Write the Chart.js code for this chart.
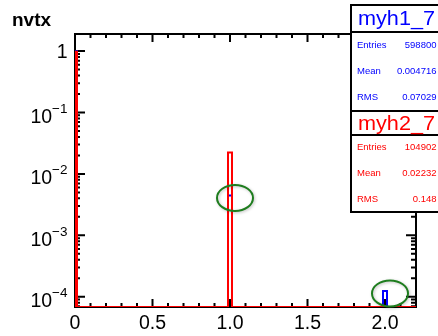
<!DOCTYPE html>
<html>
<head>
<meta charset="utf-8">
<script src="https://cdn.jsdelivr.net/npm/chart.js@4.4.1/dist/chart.umd.min.js"></script>
<style>
  html, body { margin: 0; padding: 0; background: #ffffff; }
  #wrap { width: 438px; height: 336px; }
</style>
</head>
<body>
<div id="wrap"><canvas id="c" width="438" height="336"></canvas></div>
<script>
// Bin centres on the nvtx axis and the bin width
const binCenters = [0, 1, 2];
const binWidth = 0.0258;

// Normalised bin contents of the two histograms
const h1Values = [0.99541, 0.00447, 0.000124];   // myh1_7
const h2Values = [0.97768, 0.02232, 0];          // myh2_7

// Axis ranges and labelled ticks
const xRange = [0, 2.2];
const yRange = [6.8e-5, 1.9];
const xStep = 0.5;
const yDecades = [0, -1, -2, -3, -4];

// Statistics boxes
const statNames = ['myh1_7', 'myh2_7'];
const statLabels = ['Entries', 'Mean', 'RMS'];
const h1Stats = ['598800', '0.004716', '0.07029'];
const h2Stats = ['104902', '0.02232', '0.148'];

// Bins of myh1_7 that are circled
const markedBins = [1, 2];

const FONT = "'Liberation Sans', Arial, Helvetica, sans-serif";

// Histogram outline clipped to the x range; empty bins sit on the lower edge of the log axis
function outline(values) {
  const floor = yRange[0];
  const pts = [{ x: xRange[0], y: floor }];
  binCenters.forEach((c, i) => {
    const v = values[i] > floor ? values[i] : floor;
    const lo = Math.max(c - binWidth / 2, xRange[0]);
    const hi = Math.min(c + binWidth / 2, xRange[1]);
    pts.push({ x: lo, y: floor }, { x: lo, y: v }, { x: hi, y: v }, { x: hi, y: floor });
  });
  pts.push({ x: xRange[1], y: floor });
  return pts;
}

// Frame with inward ticks on all four sides, plus the y labels
const framePlugin = {
  id: 'frame',
  beforeDatasetsDraw(chart) {
    const { ctx, chartArea: a, scales: { x, y } } = chart;
    ctx.save();
    ctx.strokeStyle = '#000';
    ctx.lineWidth = 2;
    ctx.strokeRect(a.left, a.top, a.right - a.left, a.bottom - a.top);
    ctx.beginPath();
    for (let i = 0; i <= Math.round(xRange[1] * 10); i++) {
      const px = x.getPixelForValue(i / 10);
      const len = i % 5 === 0 ? 8 : 4;
      ctx.moveTo(px, a.bottom); ctx.lineTo(px, a.bottom - len);
      ctx.moveTo(px, a.top); ctx.lineTo(px, a.top + len);
    }
    for (let d = -5; d <= 0; d++) {
      for (let m = 1; m <= 9; m++) {
        const v = m * Math.pow(10, d);
        if (v < y.min || v > y.max) continue;
        const py = y.getPixelForValue(v);
        const len = m === 1 ? 10 : 5;
        ctx.moveTo(a.left, py); ctx.lineTo(a.left + len, py);
        ctx.moveTo(a.right, py); ctx.lineTo(a.right - len, py);
      }
    }
    ctx.stroke();

    ctx.fillStyle = '#000';
    ctx.textAlign = 'right';
    ctx.textBaseline = 'alphabetic';
    const rx = a.left - 7.5;
    yDecades.forEach(d => {
      const py = y.getPixelForValue(Math.pow(10, d));
      if (d === 0) {
        ctx.font = '19.5px ' + FONT;
        ctx.fillText('1', rx, py + 7);
      } else {
        const sup = '\u2212' + (-d);
        ctx.font = '13.5px ' + FONT;
        const w = ctx.measureText(sup).width;
        ctx.fillText(sup, rx, py + 0.5);
        ctx.font = '19.5px ' + FONT;
        ctx.fillText('10', rx - w, py + 10.5);
      }
    });

    // histogram title
    ctx.textAlign = 'left';
    ctx.font = 'bold 19px ' + FONT;
    ctx.fillText('nvtx', 12, 26);
    ctx.restore();
  }
};

// Green rings around the circled bins of myh1_7
const markPlugin = {
  id: 'marks',
  afterDatasetsDraw(chart) {
    const { ctx, scales: { x, y } } = chart;
    ctx.save();
    ctx.strokeStyle = '#1e7d1e';
    ctx.lineWidth = 2;
    ctx.shadowColor = 'rgba(0,0,0,0.25)';
    ctx.shadowBlur = 3;
    ctx.shadowOffsetX = 1;
    ctx.shadowOffsetY = 1;
    markedBins.forEach(i => {
      const cx = x.getPixelForValue(binCenters[i]) + 5;
      const cy = y.getPixelForValue(h1Values[i]) + 2.5;
      ctx.beginPath();
      ctx.ellipse(cx, cy, 18, 13, 0, 0, Math.PI * 2);
      ctx.stroke();
    });
    ctx.restore();
  }
};

// Statistics boxes in the upper right corner
function drawStatBox(ctx, top, sep, bottom, name, values, color) {
  const left = 351, right = 439;
  ctx.fillStyle = '#fff';
  ctx.fillRect(left, top, right - left, bottom - top);
  ctx.strokeStyle = '#000';
  ctx.lineWidth = 2;
  ctx.strokeRect(left, top, right - left, bottom - top);
  ctx.beginPath();
  ctx.moveTo(left, sep); ctx.lineTo(right, sep);
  ctx.stroke();

  ctx.fillStyle = color;
  ctx.font = '20px ' + FONT;
  ctx.textBaseline = 'middle';
  ctx.textAlign = 'center';
  const tw = ctx.measureText(name).width;
  const sx = 77 / tw;
  ctx.save();
  ctx.translate(396.5, (top + sep) / 2 + 1);
  ctx.scale(sx, 1);
  ctx.fillText(name, 0, 0);
  ctx.restore();

  ctx.font = '9.5px ' + FONT;
  const rowH = (bottom - sep) / 3;
  statLabels.forEach((lab, k) => {
    const ry = sep + rowH * (k + 0.5);
    ctx.textAlign = 'left';
    ctx.fillText(lab, 357, ry);
    ctx.textAlign = 'right';
    ctx.fillText(values[k], 436.5, ry);
  });
}

const statsPlugin = {
  id: 'stats',
  afterDraw(chart) {
    const ctx = chart.ctx;
    ctx.save();
    drawStatBox(ctx, 5, 32, 111, statNames[0], h1Stats, '#0000ff');
    drawStatBox(ctx, 111, 135, 212, statNames[1], h2Stats, '#ff0000');
    ctx.restore();
  }
};

new Chart(document.getElementById('c').getContext('2d'), {
  type: 'line',
  data: {
    datasets: [
      { label: statNames[1], data: outline(h2Values), borderColor: '#ff0000', borderWidth: 2,
        pointRadius: 0, tension: 0, fill: false },
      { label: statNames[0], data: outline(h1Values), borderColor: '#0000ff', borderWidth: 2,
        pointRadius: 0, tension: 0, fill: false }
    ]
  },
  options: {
    responsive: false,
    animation: false,
    layout: { padding: { top: 34, right: 22, left: 0, bottom: 0 } },
    plugins: { legend: { display: false }, tooltip: { enabled: false }, title: { display: false } },
    scales: {
      x: {
        type: 'linear', min: xRange[0], max: xRange[1],
        grid: { display: false, drawTicks: false }, border: { display: false },
        ticks: { stepSize: xStep, includeBounds: false, autoSkip: false, maxRotation: 0,
                 color: '#000', padding: 5, font: { family: FONT, size: 19.5 } },
        afterFit(s) { s.height = 29; }
      },
      y: {
        type: 'logarithmic', min: yRange[0], max: yRange[1],
        grid: { display: false, drawTicks: false }, border: { display: false },
        ticks: { display: false },
        afterFit(s) { s.width = 75; }
      }
    }
  },
  plugins: [framePlugin, markPlugin, statsPlugin]
});
</script>
</body>
</html>
